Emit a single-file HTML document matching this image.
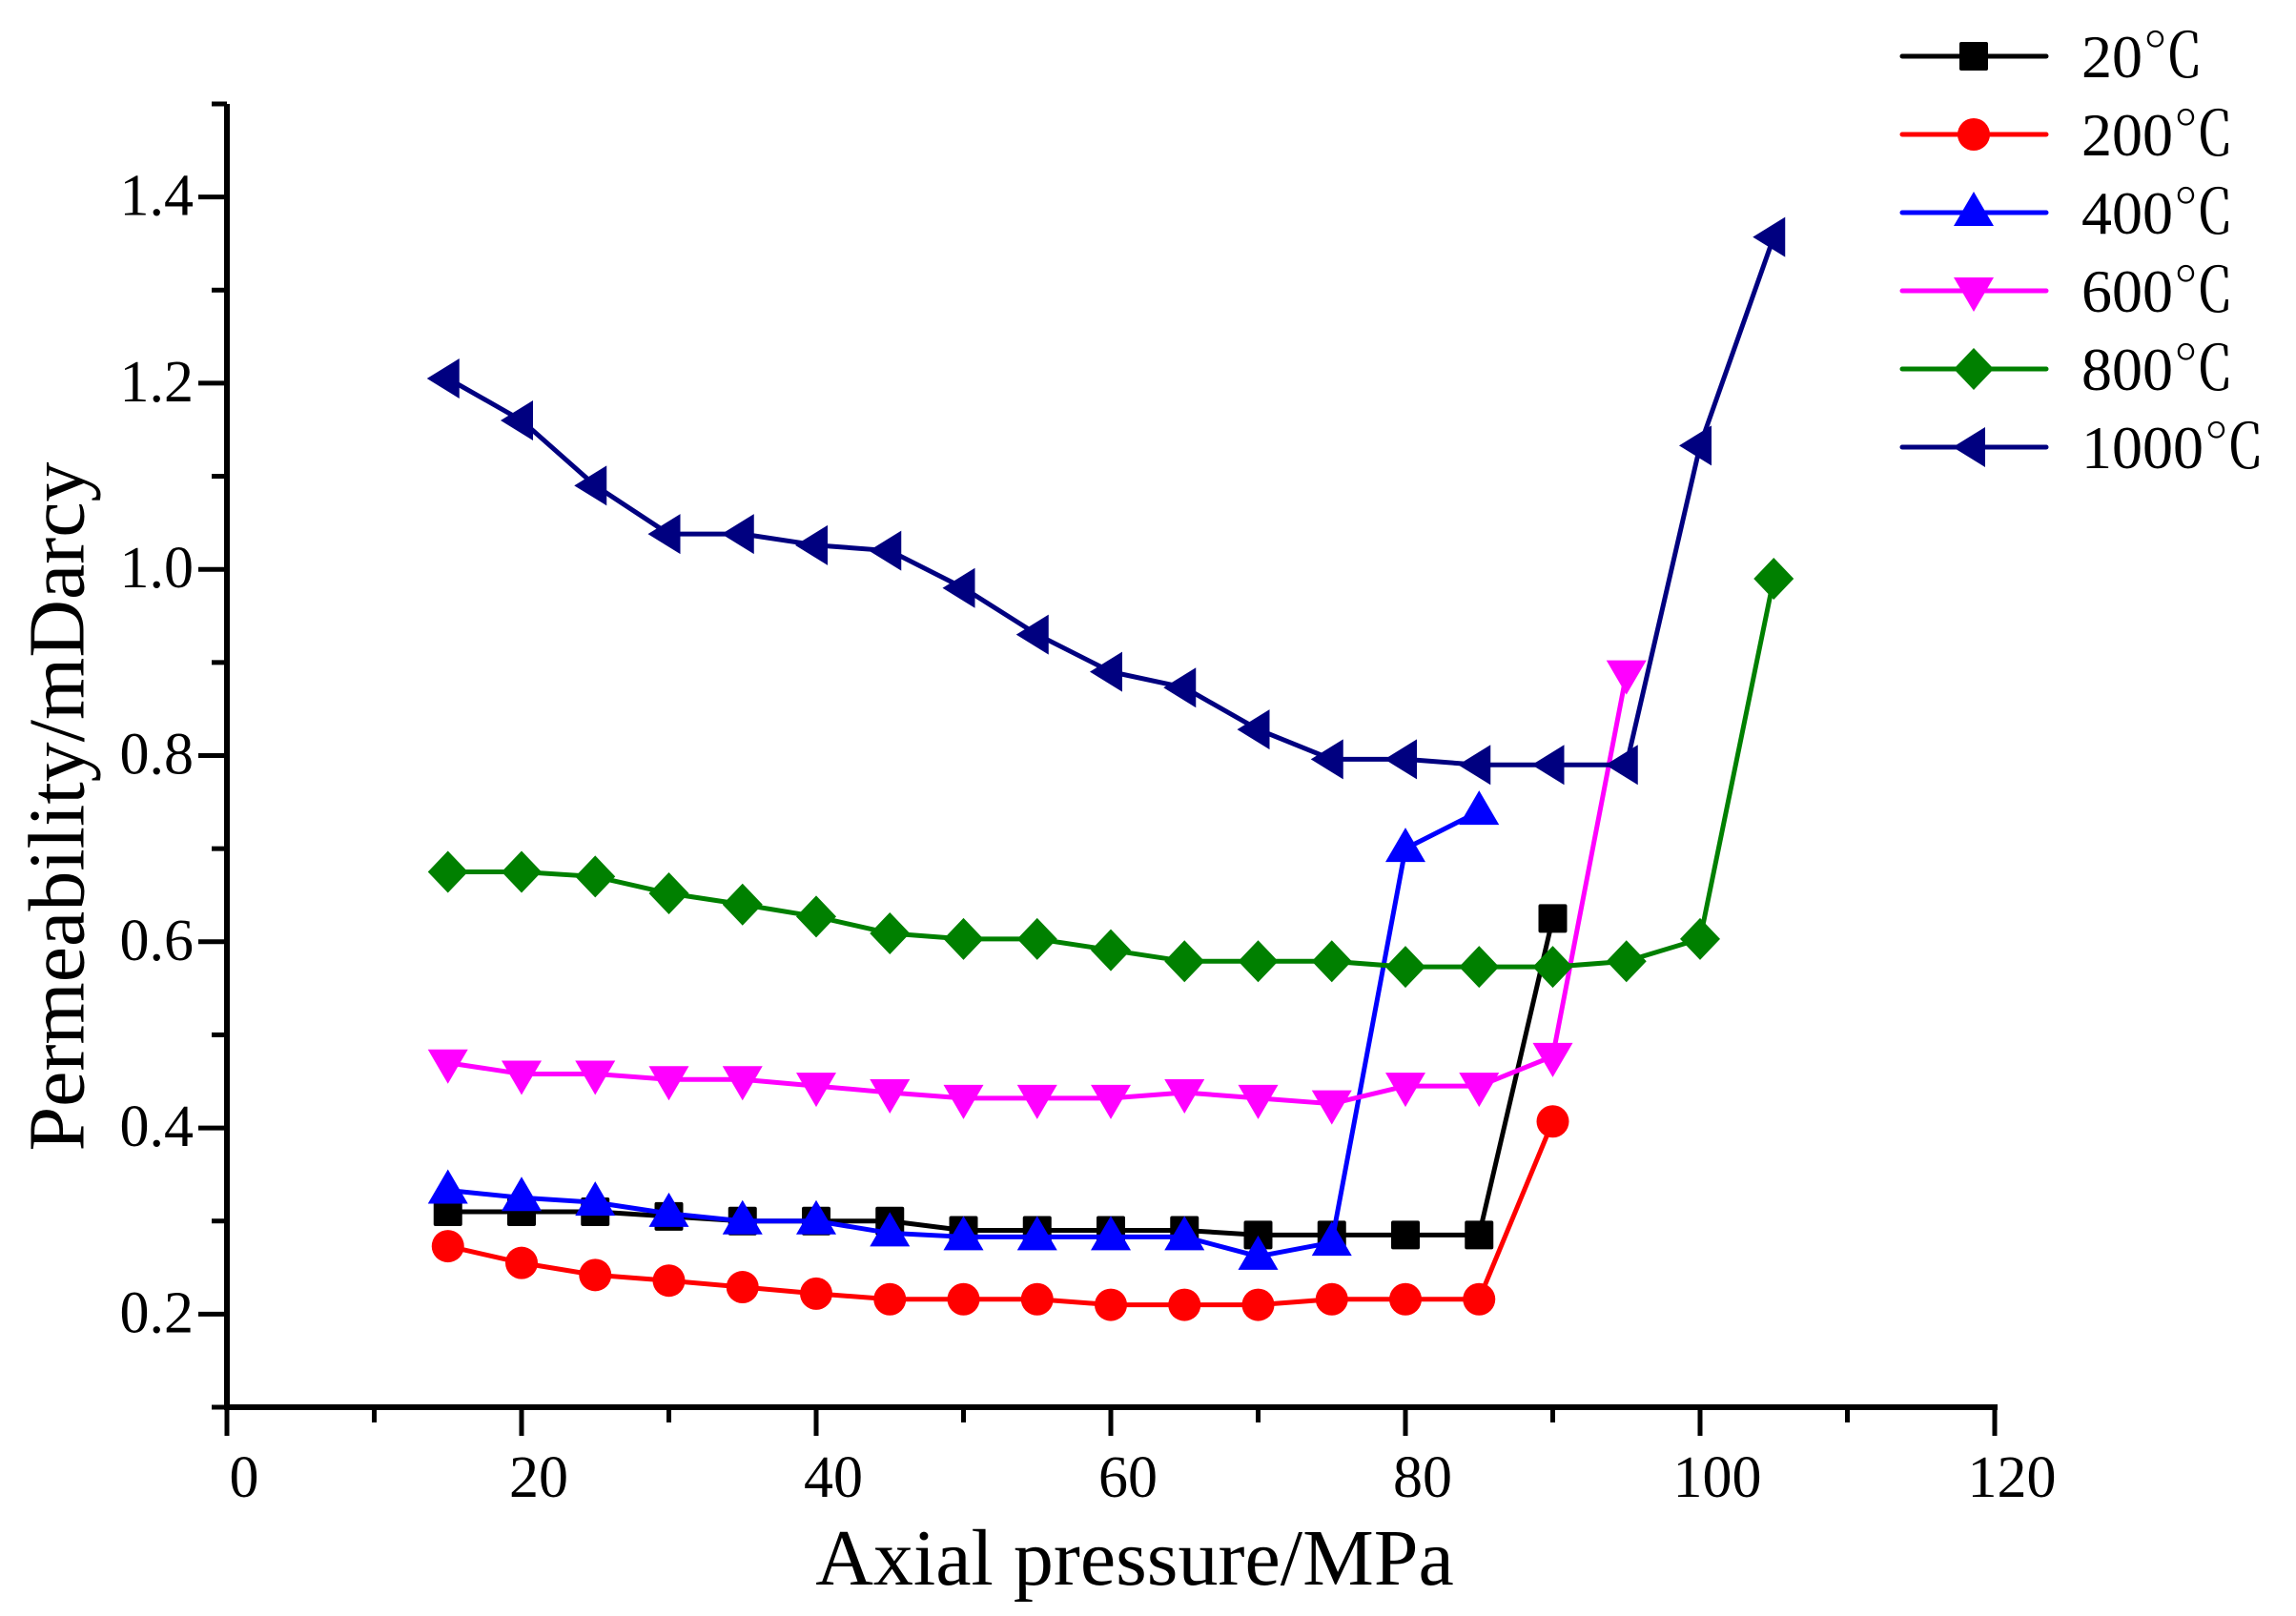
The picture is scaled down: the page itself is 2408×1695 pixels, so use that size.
<!DOCTYPE html>
<html><head><meta charset="utf-8"><style>
html,body{margin:0;padding:0;background:#fff;}
svg{display:block;font-family:"Liberation Serif","Noto Serif CJK SC",serif;}
</style></head><body>
<svg id="chart" width="2408" height="1695" viewBox="0 0 2408 1695">
<g id="axes"></g>
<g id="series"></g>
<g id="legend"></g>
<text x="68" y="846" font-size="84" text-anchor="middle" transform="rotate(-90 68 846)" dominant-baseline="middle">Permeability/mDarcy</text>
<text x="1190" y="1662" font-size="84" text-anchor="middle">Axial pressure/MPa</text>
</svg>
<script>
const xTicks = [0,20,40,60,80,100,120];
const yTicks = [0.2,0.4,0.6,0.8,1.0,1.2,1.4];
const seriesNames = ["20℃","200℃","400℃","600℃","800℃","1000℃"];
const seriesColors = ["#000000","#ff0000","#0000ff","#ff00ff","#008000","#000080"];
const seriesMarkers = ["square","circle","up","down","diamond","left"];
const x20 = [15,20,25,30,35,40,45,50,55,60,65,70,75,80,85,90];
const y20 = [0.31,0.31,0.31,0.305,0.30,0.30,0.30,0.29,0.29,0.29,0.29,0.285,0.285,0.285,0.285,0.625];
const x200 = [15,20,25,30,35,40,45,50,55,60,65,70,75,80,85,90];
const y200 = [0.273,0.255,0.242,0.236,0.229,0.222,0.216,0.216,0.216,0.210,0.210,0.210,0.216,0.216,0.216,0.407];
const x400 = [15,20,25,30,35,40,45,50,55,60,65,70,75,80,85];
const y400 = [0.333,0.325,0.32,0.308,0.30,0.30,0.287,0.283,0.283,0.283,0.283,0.262,0.277,0.70,0.74];
const x600 = [15,20,25,30,35,40,45,50,55,60,65,70,75,80,85,90,95];
const y600 = [0.47,0.458,0.458,0.452,0.452,0.445,0.438,0.432,0.432,0.432,0.438,0.432,0.426,0.445,0.445,0.477,0.888];
const x800 = [15,20,25,30,35,40,45,50,55,60,65,70,75,80,85,90,95,100,105];
const y800 = [0.675,0.675,0.67,0.652,0.64,0.627,0.609,0.603,0.603,0.591,0.579,0.579,0.579,0.573,0.573,0.573,0.579,0.603,0.99];
const x1000 = [15,20,25,30,35,40,45,50,55,60,65,70,75,80,85,90,95,100,105];
const y1000 = [1.205,1.16,1.09,1.038,1.038,1.026,1.02,0.98,0.93,0.89,0.873,0.828,0.796,0.796,0.79,0.79,0.79,1.133,1.357];
const xs=[x20,x200,x400,x600,x800,x1000], ys=[y20,y200,y400,y600,y800,y1000];

const NS="http://www.w3.org/2000/svg";
const X0=238,X1=2092,Y0=1476,Y1=109;
const sx=v=>X0+(v-0)/120*(X1-X0);
const sy=v=>Y0-(v-0.1)/1.4*(Y0-Y1);
function mk(t,a,p){const e=document.createElementNS(NS,t);for(const k in a)e.setAttribute(k,a[k]);p.appendChild(e);return e;}
const axes=document.getElementById('axes');
let e;
e=mk('line',{x1:X0,y1:Y0,x2:X1+3,y2:Y0,stroke:'#000','stroke-width':6},axes);


e=mk('line',{x1:X0,y1:Y0+3,x2:X0,y2:Y1,stroke:'#000','stroke-width':6},axes);


for(let v=0;v<=120;v+=10){
  const maj=v%20===0;
  e=mk('line',{x1:sx(v),y1:Y0,x2:sx(v),y2:Y0+(maj?30:16),stroke:'#000','stroke-width':5},axes);
  
  
}
xTicks.forEach(v=>{
  e=mk('text',{x:sx(v)+18,y:1570,'font-size':62,'text-anchor':'middle'},axes);e.textContent=v;
  
  
});
for(let i=1;i<=15;i++){
  const v=i/10, maj=i%2===0;
  e=mk('line',{x1:X0,y1:sy(v),x2:X0-(maj?30:16),y2:sy(v),stroke:'#000','stroke-width':5},axes);
  
  
}
yTicks.forEach(v=>{
  e=mk('text',{x:203,y:sy(v)+19,'font-size':62,'text-anchor':'end'},axes);e.textContent=v.toFixed(1);
  
  
});
function marker(type,x,y,c,p){
  let m;
  if(type==='square') m=mk('rect',{x:x-15,y:y-15,width:30,height:30,rx:2,fill:c},p);
  else if(type==='circle') m=mk('circle',{cx:x,cy:y,r:17,fill:c},p);
  else if(type==='up') m=mk('polygon',{points:`${x},${y-22} ${x-21},${y+14} ${x+21},${y+14}`,fill:c},p);
  else if(type==='down') m=mk('polygon',{points:`${x},${y+22} ${x-21},${y-14} ${x+21},${y-14}`,fill:c},p);
  else if(type==='diamond') m=mk('polygon',{points:`${x},${y-22} ${x+21},${y} ${x},${y+22} ${x-21},${y}`,fill:c},p);
  else m=mk('polygon',{points:`${x-22},${y} ${x+12},${y-21} ${x+12},${y+21}`,fill:c},p);
  return m;
}
const sg=document.getElementById('series');
for(let s=0;s<6;s++){
  const g=mk('g',{},sg);
  
  
  const pts=xs[s].map((xv,i)=>sx(xv)+','+sy(ys[s][i])).join(' ');
  e=mk('polyline',{points:pts,fill:'none',stroke:seriesColors[s],'stroke-width':5,'stroke-linejoin':'round'},g);
  
  
  xs[s].forEach((xv,i)=>{
    const m=marker(seriesMarkers[s],sx(xv),sy(ys[s][i]),seriesColors[s],g);
    
    
  });
}
const lg=document.getElementById('legend');
for(let s=0;s<6;s++){
  const y=59+s*82;
  const g=mk('g',{},lg);
  
  
  mk('line',{x1:1995,y1:y,x2:2146,y2:y,stroke:seriesColors[s],'stroke-width':5,'stroke-linecap':'round'},g);
  marker(seriesMarkers[s],2070,y,seriesColors[s],g);
  e=mk('text',{x:2183,y:y+22,'font-size':64},g);e.textContent=seriesNames[s];
  
  
}
</script>
</body></html>
